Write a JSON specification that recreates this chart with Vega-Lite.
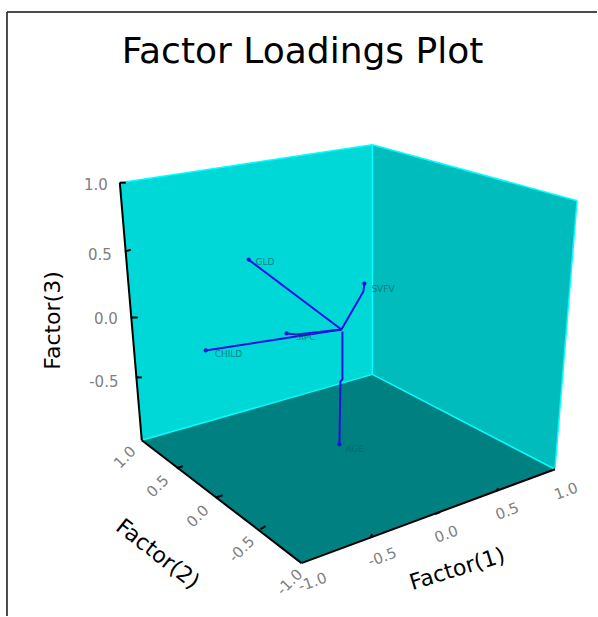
{"$schema":"https://vega.github.io/schema/vega-lite/v6.json","autosize":{"type":"fit","contains":"padding"},"width":598,"height":617,"padding":0,"background":"white","view":{"stroke":null},"config":{"font":"DejaVu Sans"},
"datasets":{
"leftWall":[{"x":120,"y":183,"y2":183},{"x":142,"y":179.7,"y2":441},{"x":373,"y":145,"y2":375}],
"rightWall":[{"x":373,"y":145,"y2":375},{"x":556,"y":195,"y2":470},{"x":578,"y":201,"y2":201}],
"floor":[{"x":142,"y":441,"y2":441},{"x":302,"y":395,"y2":564},{"x":373,"y":375,"y2":538},{"x":556,"y":470,"y2":470}],
"frame":[{"x":7,"y":12,"x2":598,"y2":12},{"x":7,"y":12,"x2":7,"y2":617}],
"cyanEdges":[{"x":120,"y":183,"x2":373,"y2":145},{"x":373,"y":145,"x2":578,"y2":201},{"x":578,"y":201,"x2":556,"y2":468},{"x":373,"y":145,"x2":373,"y2":375},{"x":142,"y":441,"x2":373,"y2":375},{"x":373,"y":375,"x2":556,"y2":470}],
"axisLines":[{"x":120,"y":183,"x2":142,"y2":441},{"x":142,"y":441,"x2":302,"y2":564},{"x":302,"y":564,"x2":556,"y2":470},
{"x":120,"y":183,"x2":126,"y2":183},{"x":125,"y":252,"x2":131,"y2":250},{"x":131,"y":318,"x2":138,"y2":318},{"x":136,"y":378,"x2":142,"y2":378},
{"x":177,"y":469,"x2":183,"y2":467},{"x":217,"y":498,"x2":223,"y2":496},{"x":261,"y":530,"x2":266,"y2":527},
{"x":371,"y":538,"x2":373,"y2":535},{"x":436,"y":515,"x2":441,"y2":513},{"x":497,"y":492,"x2":499,"y2":489}],
"zTicks":[{"x":96,"y":185,"label":"1.0"},{"x":100,"y":255,"label":"0.5"},{"x":106,"y":320,"label":"0.0"},{"x":104,"y":383,"label":"-0.5"}],
"yTicks":[{"x":125,"y":458,"label":"1.0"},{"x":158,"y":487,"label":"0.5"},{"x":198,"y":517,"label":"0.0"},{"x":242,"y":550,"label":"-0.5"},{"x":290,"y":583,"label":"-1.0"}],
"xTicks":[{"x":313,"y":583,"label":"-1.0"},{"x":383,"y":558,"label":"-0.5"},{"x":447,"y":535,"label":"0.0"},{"x":508,"y":512,"label":"0.5"},{"x":567,"y":492,"label":"1.0"}],
"loadings":[
{"name":"GLD","order":0,"x":342,"y":330},{"name":"GLD","order":1,"x":249,"y":260},
{"name":"SVFV","order":0,"x":342,"y":330},{"name":"SVFV","order":1,"x":364,"y":292},{"name":"SVFV","order":2,"x":365,"y":284},
{"name":"CHILD","order":0,"x":342,"y":330},{"name":"CHILD","order":1,"x":206,"y":351},
{"name":"SIPC","order":0,"x":342,"y":330},{"name":"SIPC","order":1,"x":297,"y":335},{"name":"SIPC","order":2,"x":287,"y":334},
{"name":"AGE","order":0,"x":343,"y":332},{"name":"AGE","order":1,"x":343,"y":380},{"name":"AGE","order":2,"x":341,"y":382},{"name":"AGE","order":3,"x":340,"y":445}],
"ends":[{"name":"GLD","x":249,"y":260},{"name":"SVFV","x":365,"y":284},{"name":"CHILD","x":206,"y":351},{"name":"SIPC","x":287,"y":334},{"name":"AGE","x":340,"y":445}],
"labels":[{"name":"GLD","x":256,"y":262},{"name":"SVFV","x":372,"y":289},{"name":"CHILD","x":215,"y":355},{"name":"SIPC","x":296,"y":338},{"name":"AGE","x":346,"y":450}]
},
"encoding":{"x":{"field":"x","type":"quantitative","scale":{"domain":[0,598],"nice":false,"zero":false},"axis":null},"y":{"field":"y","type":"quantitative","scale":{"domain":[617,0],"nice":false,"zero":false},"axis":null}},
"layer":[
{"data":{"name":"leftWall"},"mark":{"type":"area","color":"#00D8D8"},"encoding":{"y2":{"field":"y2"}}},
{"data":{"name":"rightWall"},"mark":{"type":"area","color":"#00BCBC"},"encoding":{"y2":{"field":"y2"}}},
{"data":{"name":"floor"},"mark":{"type":"area","color":"#008080"},"encoding":{"y2":{"field":"y2"}}},
{"data":{"name":"cyanEdges"},"mark":{"type":"rule","color":"#00FFFF","strokeWidth":1.5},"encoding":{"x2":{"field":"x2"},"y2":{"field":"y2"}}},
{"data":{"name":"axisLines"},"mark":{"type":"rule","color":"#000000","strokeWidth":2},"encoding":{"x2":{"field":"x2"},"y2":{"field":"y2"}}},
{"data":{"name":"frame"},"mark":{"type":"rule","color":"#111111","strokeWidth":1.5},"encoding":{"x2":{"field":"x2"},"y2":{"field":"y2"}}},
{"data":{"name":"loadings"},"mark":{"type":"line","color":"#2010E0","strokeWidth":2},"encoding":{"detail":{"field":"name"},"order":{"field":"order","type":"quantitative"}}},
{"data":{"name":"ends"},"mark":{"type":"point","filled":true,"color":"#2010E0","size":18,"opacity":1}},
{"data":{"name":"labels"},"mark":{"type":"text","align":"left","baseline":"middle","fontSize":9,"color":"#0A5F66","opacity":0.7},"encoding":{"text":{"field":"name"}}},
{"data":{"name":"zTicks"},"mark":{"type":"text","align":"center","baseline":"middle","fontSize":15,"color":"#808080"},"encoding":{"text":{"field":"label"}}},
{"data":{"name":"yTicks"},"mark":{"type":"text","align":"center","baseline":"middle","fontSize":15,"color":"#808080","angle":-45},"encoding":{"text":{"field":"label"}}},
{"data":{"name":"xTicks"},"mark":{"type":"text","align":"center","baseline":"middle","fontSize":15,"color":"#808080","angle":-20},"encoding":{"text":{"field":"label"}}},
{"data":{"values":[{"x":303,"y":52,"t":"Factor Loadings Plot"}]},"mark":{"type":"text","align":"center","baseline":"middle","fontSize":36,"color":"#000000"},"encoding":{"text":{"field":"t"}}},
{"data":{"values":[{"x":53,"y":321,"t":"Factor(3)"}]},"mark":{"type":"text","align":"center","baseline":"middle","fontSize":22,"color":"#000000","angle":-90},"encoding":{"text":{"field":"t"}}},
{"data":{"values":[{"x":158,"y":555,"t":"Factor(2)"}]},"mark":{"type":"text","align":"center","baseline":"middle","fontSize":22,"color":"#000000","angle":38},"encoding":{"text":{"field":"t"}}},
{"data":{"values":[{"x":458,"y":570,"t":"Factor(1)"}]},"mark":{"type":"text","align":"center","baseline":"middle","fontSize":22,"color":"#000000","angle":-17},"encoding":{"text":{"field":"t"}}}
]}
